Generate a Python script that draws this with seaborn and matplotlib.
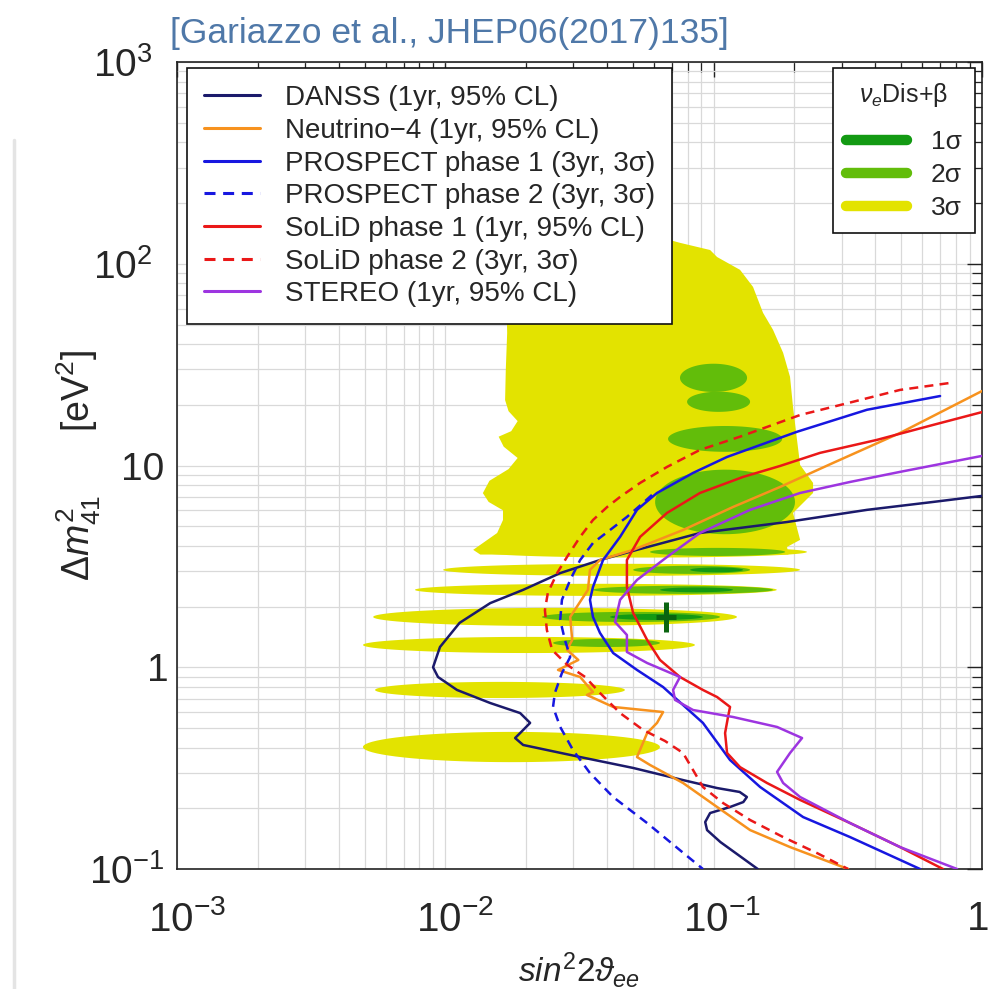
import numpy as np
import matplotlib
matplotlib.use("Agg")
import matplotlib.pyplot as plt
from matplotlib.lines import Line2D
from matplotlib.transforms import ScaledTranslation
import seaborn as sns

# sensitivity curves: x = sin^2(2 theta_ee), y = dm41^2 [eV^2]
danss_x = [1.0, 0.658, 0.373, 0.188, 0.0889, 0.0518, 0.0377, 0.0268, 0.0195, 0.0147, 0.0113,
           0.00955, 0.0090, 0.00939, 0.01105, 0.0147, 0.0190, 0.0207, 0.0190, 0.0182, 0.0195,
           0.0318, 0.0501, 0.0769, 0.103, 0.125, 0.133, 0.129, 0.115, 0.097, 0.093, 0.0945, 0.106, 0.146]
danss_y = [7.07, 6.60, 6.03, 5.25, 4.63, 3.82, 3.40, 2.93, 2.42, 2.08, 1.66,
           1.26, 1.00, 0.895, 0.772, 0.665, 0.593, 0.530, 0.472, 0.446, 0.412,
           0.359, 0.317, 0.276, 0.252, 0.241, 0.2275, 0.2148, 0.2029, 0.1895, 0.171, 0.156, 0.136, 0.1]

nu4_x = [1.0, 0.495, 0.2786, 0.1768, 0.1181, 0.0769, 0.0501, 0.0377, 0.0346, 0.034, 0.0292,
         0.0297, 0.0284, 0.0313, 0.0263, 0.0318, 0.0355, 0.0337, 0.0422, 0.0648, 0.0615,
         0.0565, 0.0518, 0.0579, 0.0769, 0.103, 0.1367, 0.1926, 0.317]
nu4_y = [23.4, 14.5, 10.3, 7.83, 6.23, 4.79, 3.82, 3.40, 3.04, 2.42, 1.776,
         1.366, 1.22, 1.087, 0.97, 0.895, 0.754, 0.729, 0.636, 0.60, 0.53,
         0.472, 0.359, 0.328, 0.267, 0.203, 0.156, 0.1285, 0.1]

pros1_x = [0.698, 0.373, 0.2045, 0.1122, 0.0838, 0.0615, 0.0518, 0.0448, 0.0387, 0.0355, 0.0346,
           0.0355, 0.0377, 0.0422, 0.0518, 0.0648, 0.080, 0.0912, 0.1151, 0.149, 0.2154, 0.3224, 0.588]
pros1_y = [22.1, 18.9, 14.7, 11.03, 9.19, 7.31, 6.03, 4.43, 3.40, 2.50, 2.16,
           1.776, 1.48, 1.177, 0.970, 0.798, 0.62, 0.53, 0.347, 0.255, 0.181, 0.144, 0.1]

pros2_x = [0.0589, 0.0546, 0.0475, 0.0411, 0.0355, 0.0318, 0.0292, 0.0272, 0.0268, 0.0279, 0.0292,
           0.0272, 0.0256, 0.0252, 0.0268, 0.0299, 0.0346, 0.0422, 0.0565, 0.0749, 0.0912]
pros2_y = [7.15, 6.53, 5.56, 4.79, 4.13, 3.40, 2.71, 2.16, 1.716, 1.366, 1.125,
           0.937, 0.746, 0.636, 0.506, 0.389, 0.299, 0.2275, 0.169, 0.124, 0.1]

solid1_x = [1.0, 0.658, 0.406, 0.249, 0.1768, 0.1287, 0.0889, 0.067, 0.0532, 0.0475, 0.0475,
            0.0501, 0.0565, 0.0631, 0.0749, 0.0912, 0.103, 0.1151, 0.1131, 0.1103, 0.1122,
            0.1254, 0.158, 0.21, 0.3224, 0.495, 0.716]
solid1_y = [18.4, 15.9, 13.4, 11.55, 9.95, 8.78, 7.31, 5.82, 4.43, 3.40, 2.50,
            1.86, 1.366, 1.087, 0.895, 0.772, 0.712, 0.636, 0.567, 0.472, 0.376,
            0.32, 0.267, 0.22, 0.169, 0.1285, 0.1]

solid2_x = [0.75, 0.495, 0.331, 0.21, 0.1254, 0.0889, 0.067, 0.0532, 0.0448, 0.0401, 0.0355,
            0.0318, 0.0284, 0.0261, 0.0241, 0.0235, 0.0239, 0.025, 0.0284, 0.0332, 0.0377,
            0.0448, 0.0546, 0.0659, 0.0769, 0.0838, 0.0912, 0.1084, 0.1367, 0.1815, 0.2428, 0.317]
solid2_y = [25.6, 23.7, 20.7, 17.8, 13.9, 11.95, 9.84, 8.20, 6.99, 6.23, 5.37,
            4.43, 3.52, 2.93, 2.34, 1.92, 1.53, 1.22, 1.03, 0.895, 0.746,
            0.593, 0.489, 0.431, 0.376, 0.3095, 0.255, 0.2124, 0.175, 0.144, 0.12, 0.1]

stereo_x = [1.0, 0.495, 0.3224, 0.21, 0.1367, 0.0889, 0.067, 0.0518, 0.0448, 0.0429, 0.0475,
            0.0475, 0.0565, 0.0749, 0.0706, 0.0718, 0.0838, 0.1181, 0.1723, 0.2135, 0.1926,
            0.1723, 0.1815, 0.21, 0.3224, 0.495, 0.808]
stereo_y = [11.16, 9.30, 8.29, 7.31, 6.03, 4.63, 3.52, 2.71, 2.16, 1.677, 1.446,
            1.191, 1.05, 0.895, 0.772, 0.689, 0.614, 0.567, 0.506, 0.446, 0.376,
            0.303, 0.267, 0.2275, 0.169, 0.1285, 0.1]

labels = ["DANSS (1yr, 95% CL)", "Neutrino\u22124 (1yr, 95% CL)", "PROSPECT phase 1 (3yr, 3σ)",
          "PROSPECT phase 2 (3yr, 3σ)", "SoLiD phase 1 (1yr, 95% CL)", "SoLiD phase 2 (3yr, 3σ)",
          "STEREO (1yr, 95% CL)"]

# nu_e Dis + beta allowed regions
# main 3 sigma body outline
body_x = [0.0167, 0.0170, 0.0168, 0.0167, 0.0172, 0.0186, 0.0176, 0.0158, 0.0165, 0.0186,
          0.0172, 0.0146, 0.0138, 0.0145, 0.0164, 0.0164, 0.0156, 0.0127, 0.0135,
          0.19, 0.1877, 0.21, 0.1976, 0.2347, 0.2347, 0.21, 0.2045,
          0.1976, 0.1926, 0.1815, 0.1665, 0.1528, 0.1402, 0.1254, 0.103, 0.097, 0.0749, 0.0688]
body_y = [131, 45.4, 29.8, 21.1, 18.6, 16.6, 14.8, 13.9, 12.4, 10.9,
          9.6, 8.40, 7.3, 6.6, 6.0, 5.37, 4.63, 3.82, 3.62,
          3.62, 3.95, 4.28, 5.82, 7.31, 8.20, 10.07, 13.4,
          19.5, 27.5, 36.2, 47.0, 57.1, 76.8, 93.3, 108, 117, 127, 131]

# 3 sigma stripes (centre, left end, right end, half thickness in decades)
s3_y = [3.73, 3.04, 2.42, 1.776, 1.29, 0.772, 0.4025]
s3_lo = [0.0135, 0.0098, 0.0077, 0.00538, 0.00493, 0.00547, 0.00493]
s3_hi = [0.2228, 0.21, 0.172, 0.1222, 0.0852, 0.0467, 0.0631]
s3_h = [0.028, 0.03, 0.03, 0.045, 0.04, 0.04, 0.075]

# 2 sigma islands
s2_y = [27.2, 20.7, 13.55, 6.6, 3.73, 3.04, 2.42, 1.776, 1.32]
s2_lo = [0.0749, 0.0796, 0.0676, 0.0605, 0.0579, 0.0501, 0.0355, 0.0229, 0.0252]
s2_hi = [0.1332, 0.1367, 0.18, 0.201, 0.1847, 0.1367, 0.1665, 0.1056, 0.0631]
s2_h = [0.07, 0.05, 0.064, 0.16, 0.02, 0.02, 0.02, 0.025, 0.02]

# 1 sigma streaks
s1_y = [3.04, 2.42, 1.776]
s1_lo = [0.0817, 0.0631, 0.0411]
s1_hi = [0.1287, 0.1181, 0.0912]
s1_h = [0.012, 0.012, 0.015]

best_x, best_y = 0.0665, 1.776

c_yellow = "#e3e300"
c_green2 = "#62bd0a"
c_green1 = "#139a13"
c_best = "#0a6410"
colors = ["#1b1a6b", "#f7921e", "#1717e0", "#1717e0", "#ea1818", "#ea1818", "#9d35e0"]
styles = ["-", "-", "-", (0, (3.6, 2.5)), "-", (0, (3.6, 2.5)), "-"]


def lens(lo, hi, yc, hh, n=80):
    t = np.linspace(0, 2 * np.pi, n)
    a, b = np.log10(lo), np.log10(hi)
    return 10 ** ((a + b) / 2 + (b - a) / 2 * np.cos(t)), 10 ** (np.log10(yc) + hh * np.sin(t))


def nudge(label, dx_px):
    label.set_transform(label.get_transform() + ScaledTranslation(dx_px / 100, 0, fig.dpi_scale_trans))


sns.set_theme(style="white")
plt.rcParams["font.family"] = ["Liberation Sans", "DejaVu Sans"]
plt.rcParams["mathtext.fontset"] = "custom"
plt.rcParams["mathtext.rm"] = "Liberation Sans"
plt.rcParams["mathtext.it"] = "Liberation Sans:italic"
plt.rcParams["mathtext.bf"] = "Liberation Sans:bold"

fig = plt.figure(figsize=(9.9, 9.89), dpi=100)
ax = fig.add_axes([0.1788, 0.1213, 0.8131, 0.816])
ax.set_xscale("log")
ax.set_yscale("log")
ax.set_xlim(1e-3, 1)
ax.set_ylim(0.1, 1000)

ax.set_axisbelow(True)
ax.grid(True, which="both", color="#d9d9d9", lw=0.9)

# allowed regions
ax.fill(body_x, body_y, color=c_yellow, lw=0, zorder=2)
for y, lo, hi, h in zip(s3_y, s3_lo, s3_hi, s3_h):
    ax.fill(*lens(lo, hi, y, h), color=c_yellow, lw=0, zorder=2)
for y, lo, hi, h in zip(s2_y, s2_lo, s2_hi, s2_h):
    ax.fill(*lens(lo, hi, y, h), color=c_green2, lw=0, zorder=3)
for y, lo, hi, h in zip(s1_y, s1_lo, s1_hi, s1_h):
    ax.fill(*lens(lo, hi, y, h), color=c_green1, lw=0, zorder=3)
ax.errorbar([best_x], [best_y], xerr=[[0.0056], [0.0061]], yerr=[[0.28], [0.33]],
            fmt="none", ecolor=c_best, elinewidth=3.6, capsize=0, zorder=4)

curves = [(danss_x, danss_y), (nu4_x, nu4_y), (pros1_x, pros1_y), (pros2_x, pros2_y),
          (solid1_x, solid1_y), (solid2_x, solid2_y), (stereo_x, stereo_y)]
for (xs, ys), c, ls in zip(curves, colors, styles):
    sns.lineplot(x=xs, y=ys, ax=ax, color=c, linestyle=ls, lw=1.8, sort=False,
                 estimator=None, zorder=6)

ax.set_xticks([1e-3, 1e-2, 1e-1, 1])
ax.set_xticklabels([r"$10^{-3}$", r"$10^{-2}$", r"$10^{-1}$", "1"])
ax.set_yticks([0.1, 1, 10, 100, 1000])
ax.set_yticklabels([r"$10^{-1}$", "1", "10", r"$10^2$", r"$10^3$"])
ax.tick_params(which="both", direction="in", top=True, right=True, color="#222222")
ax.tick_params(which="major", length=11, width=1.0)
ax.tick_params(which="minor", length=7, width=0.9)
ax.tick_params(axis="x", which="major", labelsize=29, pad=22)
ax.tick_params(axis="y", which="major", labelsize=28, pad=9)
for sp in ax.spines.values():
    sp.set_color("#222222")
    sp.set_linewidth(1.2)

for lab, dx in zip(ax.get_xticklabels(), [10, 10, 8, -4]):
    nudge(lab, dx)
for lab, dx in zip(ax.get_yticklabels(), [0, 4, 0, -12, -12]):
    nudge(lab, dx)

ax.set_xlabel(r"$sin^2 2\vartheta_{ee}$", fontsize=24)
ax.xaxis.set_label_coords(0.5, -0.1)
ax.set_ylabel(r"$\Delta m^2_{41}$      [eV$^2$]", fontsize=27)
ax.yaxis.set_label_coords(-0.092, 0.5)

handles = [Line2D([], [], color=c, ls=ls, lw=2.2) for c, ls in zip(colors, styles)]
leg1 = ax.legend(handles, labels, loc="upper left", bbox_to_anchor=(0.0124, 0.9926),
                 fontsize=20, frameon=True, fancybox=False, framealpha=1, edgecolor="#111111",
                 handlelength=2.0, handletextpad=0.9, labelspacing=0.24, borderpad=0.62,
                 borderaxespad=0)
leg1.get_frame().set_linewidth(1.2)
leg1.set_zorder(10)
ax.add_artist(leg1)

reg_handles = [Line2D([], [], color=c, lw=7.5, solid_capstyle="round")
               for c in [c_green1, c_green2, c_yellow]]
leg2 = ax.legend(reg_handles, ["1σ", "2σ", "3σ"], loc="upper right",
                 bbox_to_anchor=(0.991, 0.9926), title=r"$\nu_e$Dis+β", title_fontsize=18,
                 fontsize=19, frameon=True, fancybox=False, framealpha=1, edgecolor="#111111",
                 handlelength=2.3, handletextpad=0.9, labelspacing=0.34, borderpad=0.5,
                 borderaxespad=0)
leg2.get_frame().set_linewidth(1.2)
leg2._legend_box.sep = 15
leg2.set_zorder(10)

fig.text(170 / 990, 1 - 33 / 989, "[Gariazzo et al., JHEP06(2017)135]", color="#4f78a8",
         fontsize=25.5, ha="left", va="center",
         family=["Liberation Sans Narrow", "Liberation Sans", "DejaVu Sans"])
fig.add_artist(Line2D([14 / 990, 14 / 990], [0, 1 - 140 / 989], color="#e4e4e4", lw=2.5,
                      transform=fig.transFigure))

fig.savefig("out.png", dpi=100)
